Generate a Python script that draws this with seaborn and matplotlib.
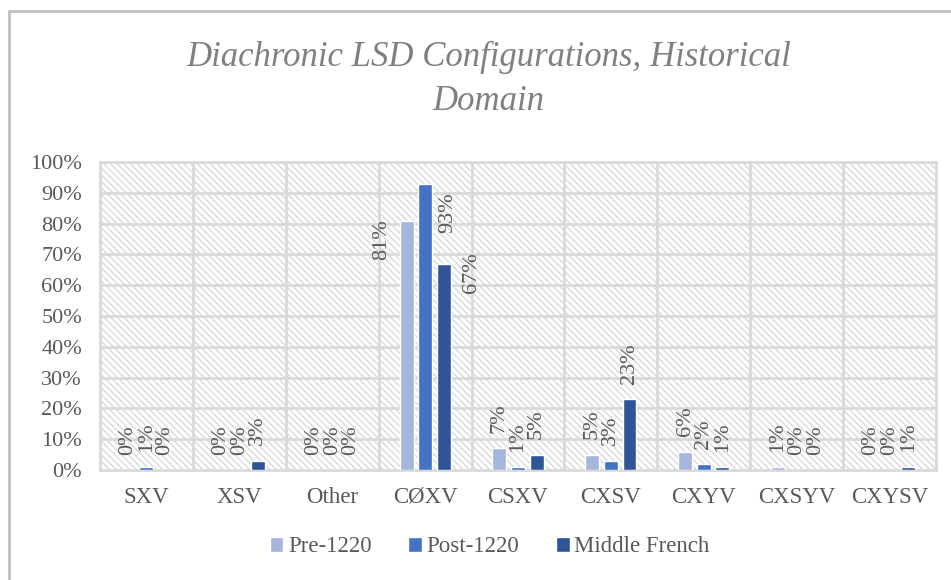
import matplotlib
matplotlib.use("Agg")
import matplotlib.pyplot as plt
import numpy as np
import pandas as pd
import seaborn as sns
from matplotlib.patches import Rectangle
from matplotlib.lines import Line2D

# Данные графика (проценты)
categories = ["SXV", "XSV", "Other", "CØXV", "CSXV", "CXSV", "CXYV", "CXSYV", "CXYSV"]
series = ["Pre-1220", "Post-1220", "Middle French"]
pre_1220 = [0, 0, 0, 81, 7, 5, 6, 1, 0]
post_1220 = [1, 0, 0, 93, 1, 3, 2, 0, 0]
middle_french = [0, 3, 0, 67, 5, 23, 1, 0, 1]

colors = ["#A6B5DC", "#4472C4", "#2F5597"]
grid_color = "#D9D9D9"
text_color = "#595959"

sns.set_theme(style="white")
plt.rcParams["font.family"] = ["Liberation Serif", "DejaVu Serif"]
plt.rcParams["hatch.linewidth"] = 1.0
plt.rcParams["hatch.color"] = grid_color

df = pd.DataFrame(
    {
        "category": categories * 3,
        "series": [series[0]] * 9 + [series[1]] * 9 + [series[2]] * 9,
        "value": pre_1220 + post_1220 + middle_french,
    }
)

fig = plt.figure(figsize=(9.51, 5.80), dpi=100)
ax = fig.add_axes([100 / 951, 1 - 470 / 580, 836 / 951, 308 / 580])

# заштрихованный фон области построения
ax.add_patch(
    Rectangle((0, 0), 1, 1, transform=ax.transAxes, facecolor="white",
              edgecolor=grid_color, hatch="\\\\\\\\\\", linewidth=0, zorder=0)
)

sns.barplot(
    data=df, x="category", y="value", hue="series", hue_order=series,
    order=categories, palette=colors, width=0.6, gap=0.25, ax=ax,
    saturation=1, zorder=3, legend=True,
)

ax.set_ylim(0, 100)
ax.set_xlim(-0.5, len(categories) - 0.5)
ax.set_yticks(np.arange(0, 101, 10))
ax.set_yticklabels([f"{v}%" for v in range(0, 101, 10)], fontsize=16, color=text_color)
ax.set_xticks(range(len(categories)))
ax.set_xticklabels(categories, fontsize=16.5, color=text_color)
ax.tick_params(axis="x", length=0, pad=12)
ax.tick_params(axis="y", length=0, pad=13)
ax.set_xlabel("")
ax.set_ylabel("")

# сетка
for v in range(10, 101, 10):
    ax.axhline(v, color=grid_color, lw=2, zorder=1)
for i in range(len(categories) - 1):
    ax.axvline(i + 0.5, color=grid_color, lw=2, zorder=1)
for side in ax.spines.values():
    side.set_color(grid_color)
    side.set_linewidth(2)

# подписи значений (для CØXV Excel сдвинул их вбок)
special_offsets = {
    (3, 0): (-18, 1, "top"),
    (3, 1): (16, -6, "top"),
    (3, 2): (20, 8, "top"),
}
for s_idx, cont in enumerate(ax.containers):
    for c_idx, bar in enumerate(cont):
        val = bar.get_height()
        xc = bar.get_x() + bar.get_width() / 2
        if (c_idx, s_idx) in special_offsets:
            dx, dy, va = special_offsets[(c_idx, s_idx)]
        else:
            dx, dy, va = 0, 11, "bottom"
        ax.annotate(f"{val:.0f}%", (xc, val), xytext=(dx, dy), textcoords="offset points",
                    rotation=90, ha="center", va=va, fontsize=16, color=text_color,
                    zorder=4)

handles, labels = ax.get_legend_handles_labels()
ax.get_legend().remove()
fig.legend(handles, labels, loc="center", bbox_to_anchor=(0.515, 1 - 547 / 580),
           ncol=3, frameon=False, fontsize=16.5, handlelength=0.6, handleheight=0.6,
           handletextpad=0.2, columnspacing=1.6, labelcolor=text_color)

fig.text(0.514, 1 - 57 / 580, "Diachronic LSD Configurations, Historical",
         ha="center", va="center", fontsize=25, style="italic", color="#808080")
fig.text(0.514, 1 - 101 / 580, "Domain",
         ha="center", va="center", fontsize=25, style="italic", color="#808080")

# рамка диаграммы
fig.add_artist(Line2D([9 / 951, 1], [1 - 11 / 580, 1 - 11 / 580], color="#BFBFBF", lw=2))
fig.add_artist(Line2D([9 / 951, 9 / 951], [0, 1 - 11 / 580], color="#BFBFBF", lw=2))

fig.savefig("out.png", dpi=100)
